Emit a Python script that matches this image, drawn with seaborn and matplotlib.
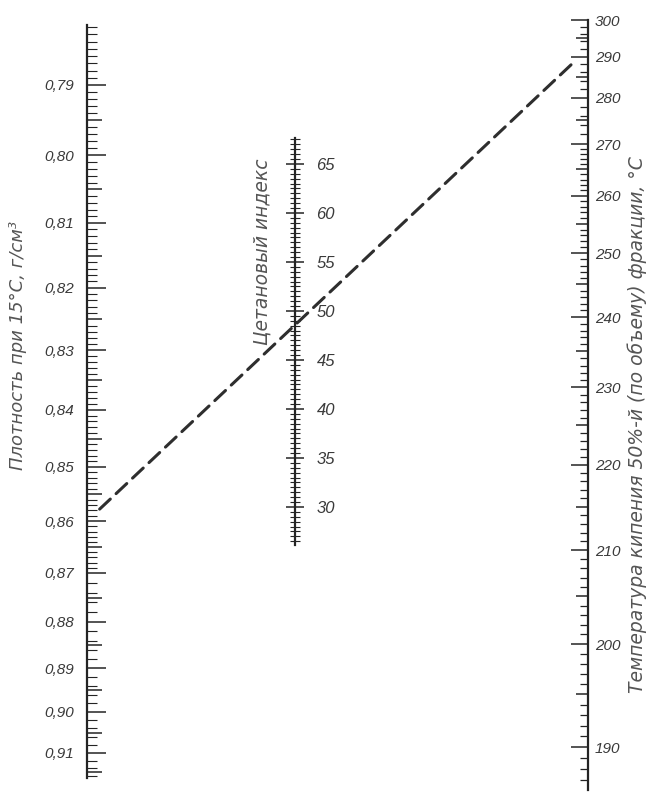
import numpy as np
import matplotlib.pyplot as plt
import matplotlib.ticker as mticker
from matplotlib.patches import ConnectionPatch
import seaborn as sns

# подписи шкал номограммы (читаются с картинки)
density_ticks = [0.79, 0.80, 0.81, 0.82, 0.83, 0.84, 0.85, 0.86, 0.87, 0.88, 0.89, 0.90, 0.91]
cetane_ticks = [30, 35, 40, 45, 50, 55, 60, 65]
temp_ticks = [190, 200, 210, 220, 230, 240, 250, 260, 270, 280, 290, 300]

# пример по штриховой линии: плотность 0,86 и 50%-я точка 292 °C -> индекс ~49
key_density = 0.86
key_temp = 292

sns.set_theme(style="white")
plt.rcParams['font.family'] = ['Liberation Sans', 'DejaVu Sans']
plt.rcParams['font.style'] = 'italic'

# шкалы по формуле цетанового индекса (ASTM D976):
# ЦИ = 454.74 - 1641.416*D + 774.74*D^2 - 0.554*B + 97.803*(lg B)^2
A, B1, C = 454.74, 1641.416, 774.74


def dens_fwd(d):
    d = np.asarray(d, float)
    return -(A - B1 * d + C * d ** 2)


def dens_inv(u):
    u = np.asarray(u, float)
    disc = np.clip(B1 ** 2 - 4 * C * (A + u), 0, None)
    return (B1 - np.sqrt(disc)) / (2 * C)


def temp_fwd(t):
    t = np.clip(np.asarray(t, float), 1, None)
    return -0.554 * t + 97.803 * np.log10(t) ** 2


t_grid = np.linspace(100, 380, 3001)


def temp_inv(v):
    return np.interp(v, temp_fwd(t_grid), t_grid)


W, H = 650, 798
fig = plt.figure(figsize=(W / 100, H / 100), dpi=100)
fig.patch.set_facecolor('white')


def box(x, top, bottom, w=8):
    return [x / W, 1 - bottom / H, w / W, (bottom - top) / H]


ink = '#242424'
txt = '#3a3a3a'


def fmt_from(labels, f):
    def _f(v, pos):
        for t in labels:
            if abs(v - t) < 1e-6:
                return f(t)
        return ''
    return mticker.FuncFormatter(_f)


# --- левая шкала: плотность
ax_d = fig.add_axes(box(87, 25, 778))
ax_d.set_yscale('function', functions=(dens_fwd, dens_inv))
ax_d.set_ylim(0.9165, 0.78175)
ax_d.set_xlim(0, 1)
ax_d.set_xticks([])
ax_d.patch.set_alpha(0)
sns.despine(ax=ax_d, top=True, right=True, bottom=True, left=False)
ax_d.spines['left'].set_color(ink)
ax_d.spines['left'].set_linewidth(1.6)
d_major = sorted(density_ticks + [round(t + 0.005, 3) for t in density_ticks])
d_minor = [round(v, 3) for v in np.arange(0.782, 0.870, 0.001)] + \
          [round(v, 3) for v in np.arange(0.870, 0.9165, 0.002)]
ax_d.yaxis.set_major_locator(mticker.FixedLocator(d_major))
ax_d.yaxis.set_minor_locator(mticker.FixedLocator(d_minor))
ax_d.yaxis.set_major_formatter(fmt_from(density_ticks, lambda t: f"{t:.2f}".replace('.', ',')))
ax_d.tick_params(axis='y', which='both', left=True, right=False, labelleft=True)
ax_d.tick_params(axis='y', which='major', direction='in', length=13.5, width=1.1,
                 color=ink, pad=9, labelsize=11, labelcolor=txt)
ax_d.tick_params(axis='y', which='minor', direction='in', length=7, width=0.8, color=ink)
for tick, loc in zip(ax_d.yaxis.get_major_ticks(), d_major):
    if loc not in density_ticks:
        tick.tick1line.set_markersize(10.5)

# --- средняя шкала: цетановый индекс
ax_c = fig.add_axes(box(287, 138, 545))
ax_c.set_ylim(26.12, 67.65)
ax_c.set_xlim(0, 1)
ax_c.set_xticks([])
ax_c.patch.set_alpha(0)
sns.despine(ax=ax_c, top=True, right=False, bottom=True, left=True)
ax_c.spines['right'].set_color(ink)
ax_c.spines['right'].set_linewidth(1.6)
ax_c.yaxis.tick_right()
ax_c.yaxis.set_major_locator(mticker.FixedLocator(cetane_ticks))
ax_c.yaxis.set_minor_locator(mticker.FixedLocator(list(np.arange(26.5, 67.6, 0.5))))
ax_c.yaxis.set_major_formatter(fmt_from(cetane_ticks, lambda t: f"{t:d}"))
ax_c.tick_params(axis='y', which='major', direction='inout', length=13, width=1.1,
                 color=ink, pad=9, labelsize=12, labelcolor=txt)
ax_c.tick_params(axis='y', which='minor', direction='inout', length=7, width=0.8, color=ink)

# --- правая шкала: температура
ax_t = fig.add_axes(box(580, 20, 790))
ax_t.set_yscale('function', functions=(temp_fwd, temp_inv))
ax_t.set_ylim(186.1, 300.0)
ax_t.set_xlim(0, 1)
ax_t.set_xticks([])
ax_t.patch.set_alpha(0)
sns.despine(ax=ax_t, top=True, right=False, bottom=True, left=True)
ax_t.spines['right'].set_color(ink)
ax_t.spines['right'].set_linewidth(1.6)
ax_t.yaxis.tick_right()
t_major = sorted(temp_ticks + [t + 5 for t in temp_ticks[:-1]])
t_minor = list(range(187, 270)) + list(range(270, 301, 2))
ax_t.yaxis.set_major_locator(mticker.FixedLocator(t_major))
ax_t.yaxis.set_minor_locator(mticker.FixedLocator(t_minor))
ax_t.yaxis.set_major_formatter(fmt_from(temp_ticks, lambda t: f"{t:d}"))
ax_t.tick_params(axis='y', which='major', direction='in', length=12, width=1.1,
                 color=ink, pad=5, labelsize=11, labelcolor=txt)
ax_t.tick_params(axis='y', which='minor', direction='in', length=5.5, width=0.9, color=ink)
for tick, loc in zip(ax_t.yaxis.get_major_ticks(), t_major):
    if loc not in temp_ticks:
        tick.tick2line.set_markersize(8.5)

# штриховая линия-ключ
con = ConnectionPatch(xyA=(0, key_density), coordsA=ax_d.transData,
                      xyB=(1, key_temp), coordsB=ax_t.transData,
                      linestyle=(0, (4.8, 2.6)), linewidth=2.2, color='#2e2e2e',
                      shrinkA=12.5, shrinkB=15)
fig.add_artist(con)

# названия шкал
title_kw = dict(rotation=90, ha='center', va='center', color='#555555',
                family='DejaVu Sans', style='italic')
fig.text(18 / W, 1 - 345 / H, 'Плотность при 15°С, г/см³', fontsize=13, **title_kw)
fig.text(262 / W, 1 - 252 / H, 'Цетановый индекс', fontsize=13.5, **title_kw)
fig.text(637 / W, 1 - 425 / H, 'Температура кипения 50%-й (по объему) фракции, °С',
         fontsize=13.5, **title_kw)

fig.savefig('out.png', dpi=100)
